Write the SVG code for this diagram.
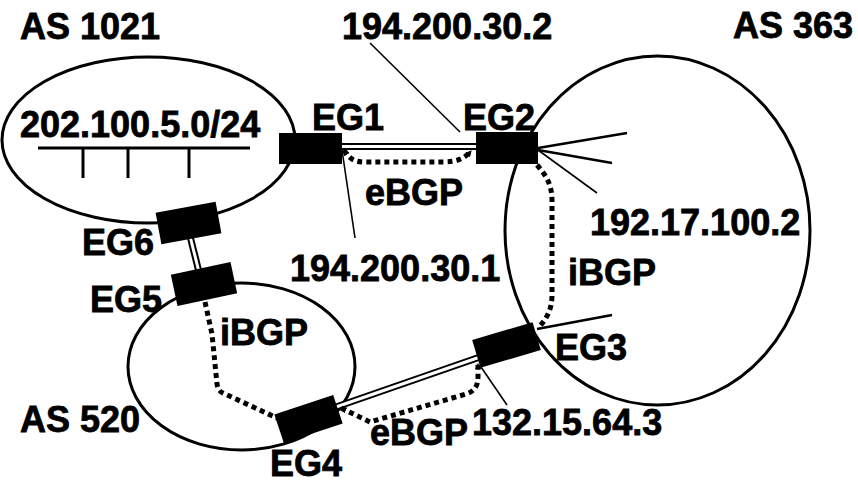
<svg xmlns="http://www.w3.org/2000/svg" width="858" height="484" viewBox="0 0 858 484">
  <style>
    .as { fill: none; stroke: #000; stroke-width: 3; }
    .box { fill: #000; }
    .lbl { font-family: "Liberation Sans", Arial, sans-serif; font-weight: bold; font-size: 36px; fill: #000; stroke: #000; stroke-width: 0.8; }
    .link-outer { stroke: #000; stroke-width: 7; fill: none; }
    .link-inner { stroke: #fff; stroke-width: 3; fill: none; }
    .session { fill: none; stroke: #000; stroke-width: 5; stroke-dasharray: 5 4; }
    .leader { stroke: #000; stroke-width: 1.6; fill: none; }
    .spoke { stroke: #000; stroke-width: 2.6; fill: none; }
  </style>
  <defs>
    <marker id="tip" viewBox="0 0 6 6" refX="5" refY="3" markerWidth="1.3" markerHeight="1.3" orient="auto-start-reverse">
      <path d="M0,0 L6,3 L0,6 Z" fill="#000"/>
    </marker>
  </defs>
  <rect width="858" height="484" fill="#fff"/>

  <!-- Autonomous systems -->
  <g id="as1021">
    <ellipse class="as" cx="148.5" cy="140" rx="146.5" ry="83"/>
    <!-- LAN segment -->
    <g stroke="#000" stroke-width="3">
      <line x1="38" y1="148" x2="250" y2="148"/>
      <line x1="83" y1="148" x2="83" y2="178"/>
      <line x1="128" y1="148" x2="128" y2="178"/>
      <line x1="189" y1="148" x2="189" y2="178"/>
    </g>
    <text class="lbl" x="20" y="39">AS 1021</text>
    <text class="lbl" x="20" y="137">202.100.5.0/24</text>
  </g>
  <g id="as363">
    <ellipse class="as" cx="657.5" cy="230.5" rx="152.5" ry="174.5"/>
    <text class="lbl" x="733" y="38">AS 363</text>
  </g>
  <g id="as520">
    <ellipse class="as" cx="241.5" cy="366.5" rx="113.5" ry="83.5"/>
    <text class="lbl" x="20" y="432">AS 520</text>
  </g>

  <!-- Links, sessions and address leaders -->
  <g id="connectors">
    <line class="link-outer" x1="342" y1="146.5" x2="476" y2="146.5"/>
    <line class="link-inner" x1="342" y1="146.5" x2="476" y2="146.5"/>
    <line class="link-outer" x1="190" y1="236" x2="199" y2="272"/>
    <line class="link-inner" x1="190" y1="236" x2="199" y2="272"/>
    <line class="link-outer" x1="336" y1="407" x2="480" y2="357"/>
    <line class="link-inner" x1="336" y1="407" x2="480" y2="357"/>

    <path class="session" marker-start="url(#tip)" marker-end="url(#tip)" d="M344,150 C350,160 355,162 366,162 L443,162 C458,162 465,158 471,151"/>
    <path class="session" d="M537,165 C546,175 552,185 552,200 L552,295 C552,310 546,320 538,328"/>
    <path class="session" d="M205,302 L212,334 L217,384 C218,390 220,392 225,394 L277,418"/>
    <path class="session" marker-start="url(#tip)" marker-end="url(#tip)" d="M341,408 L370,422 L466,394 C475,391 478,386 478,376 L478,364"/>

    <line class="leader" x1="370" y1="43" x2="460" y2="132"/>
    <line class="leader" x1="342" y1="150" x2="355" y2="238"/>
    <line class="leader" x1="538" y1="150" x2="597" y2="193"/>
    <line class="leader" x1="481" y1="367" x2="507" y2="405"/>

    <line class="spoke" x1="538" y1="148" x2="627" y2="133"/>
    <line class="spoke" x1="538" y1="150" x2="612" y2="163"/>
    <line class="spoke" x1="537" y1="329" x2="612" y2="315"/>
  </g>

  <!-- Edge gateways -->
  <g id="eg1">
    <rect class="box" x="279" y="133" width="63" height="31"/>
    <text class="lbl" x="312" y="130">EG1</text>
  </g>
  <g id="eg2">
    <rect class="box" x="476" y="132" width="62" height="32"/>
    <text class="lbl" x="463" y="130">EG2</text>
  </g>
  <g id="eg3">
    <rect class="box" x="-31.5" y="-14.5" width="63" height="29" transform="translate(506.5 345) rotate(-16.5)"/>
    <text class="lbl" x="555" y="360">EG3</text>
  </g>
  <g id="eg4">
    <rect class="box" x="-31" y="-15" width="62" height="30" transform="translate(308.5 419) rotate(-18.4)"/>
    <text class="lbl" x="270" y="476">EG4</text>
  </g>
  <g id="eg5">
    <rect class="box" x="-30.5" y="-16" width="61" height="32" transform="translate(204 284) rotate(-12)"/>
    <text class="lbl" x="90" y="312">EG5</text>
  </g>
  <g id="eg6">
    <rect class="box" x="-30.5" y="-16" width="61" height="32" transform="translate(188.5 223) rotate(-10.4)"/>
    <text class="lbl" x="82" y="255">EG6</text>
  </g>

  <!-- Session and address labels -->
  <g id="labels">
    <text class="lbl" x="342" y="39">194.200.30.2</text>
    <text class="lbl" x="365" y="205">eBGP</text>
    <text class="lbl" x="290" y="281">194.200.30.1</text>
    <text class="lbl" x="590" y="235">192.17.100.2</text>
    <text class="lbl" x="568" y="285">iBGP</text>
    <text class="lbl" x="220" y="345">iBGP</text>
    <text class="lbl" x="370" y="445">eBGP</text>
    <text class="lbl" x="472" y="435">132.15.64.3</text>
  </g>
</svg>
